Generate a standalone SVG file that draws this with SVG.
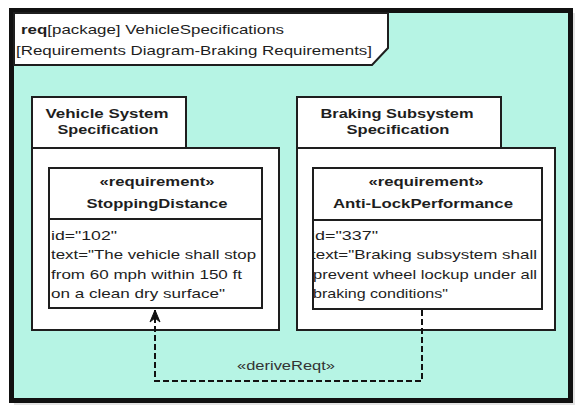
<svg xmlns="http://www.w3.org/2000/svg" width="578" height="405" viewBox="0 0 578 405">
  <style>
    text { font-family: "Liberation Sans", Arial, sans-serif; fill: #1e1e1e; }
    .hdr { font-size: 13px; }
    .title { font-size: 13px; font-weight: bold; text-anchor: middle; }
    .body { font-size: 13px; }
    .stereo { font-size: 12px; text-anchor: middle; fill: #333; }
    .box { fill: #ffffff; stroke: #1e1e1e; stroke-width: 2; }
    .edge { fill: none; stroke: #111; stroke-width: 2; }
  </style>
  <defs>
    <marker id="open-arrow" viewBox="0 0 14 12" refX="13" refY="6" markerWidth="14" markerHeight="12" markerUnits="userSpaceOnUse" orient="auto">
      <path d="M1,1 L13,6 L1,11 L5,6 Z" fill="#111" stroke="#111" stroke-width="1" stroke-linejoin="round"/>
    </marker>
    <clipPath id="clip-antilock-body">
      <rect x="314" y="220" width="228" height="89"/>
    </clipPath>
  </defs>

  <!-- diagram frame -->
  <g id="frame">
    <rect x="14" y="13" width="561" height="392" fill="#c8c8c8" opacity="0.5"/>
    <rect x="11.5" y="10.5" width="559" height="390" fill="#b6f4e4" stroke="#111" stroke-width="5"/>
    <path d="M14,13 H388 V48 L372,65 H14 Z" fill="#ffffff" stroke="#1e1e1e" stroke-width="2"/>
    <text class="hdr" x="21" y="34" textLength="263" lengthAdjust="spacingAndGlyphs"><tspan font-weight="bold">req</tspan>[package] VehicleSpecifications</text>
    <text class="hdr" x="16" y="55" textLength="356" lengthAdjust="spacingAndGlyphs">[Requirements Diagram-Braking Requirements]</text>
  </g>

  <!-- package: Vehicle System Specification -->
  <g id="vehicle-system-specification">
    <rect class="box" x="32" y="97" width="154" height="51"/>
    <rect class="box" x="32" y="148" width="247" height="182"/>
    <text class="title" x="107" y="118" textLength="123" lengthAdjust="spacingAndGlyphs">Vehicle System</text>
    <text class="title" x="108" y="134" textLength="101" lengthAdjust="spacingAndGlyphs">Specification</text>
  </g>

  <!-- requirement: StoppingDistance -->
  <g id="stopping-distance">
    <rect class="box" x="49" y="168" width="213" height="140"/>
    <line x1="49" y1="219" x2="262" y2="219" stroke="#1e1e1e" stroke-width="2"/>
    <text class="title" x="157" y="186" textLength="115" lengthAdjust="spacingAndGlyphs">«requirement»</text>
    <text class="title" x="157" y="208" textLength="141" lengthAdjust="spacingAndGlyphs">StoppingDistance</text>
    <text class="body" x="51" y="240" textLength="66" lengthAdjust="spacingAndGlyphs">id="102"</text>
    <text class="body" x="51" y="259" textLength="205" lengthAdjust="spacingAndGlyphs">text="The vehicle shall stop</text>
    <text class="body" x="51" y="279" textLength="191" lengthAdjust="spacingAndGlyphs">from 60 mph within 150 ft</text>
    <text class="body" x="51" y="298" textLength="174" lengthAdjust="spacingAndGlyphs">on a clean dry surface"</text>
  </g>

  <!-- package: Braking Subsystem Specification -->
  <g id="braking-subsystem-specification">
    <rect class="box" x="297" y="97" width="204" height="51"/>
    <rect class="box" x="297" y="148" width="258" height="182"/>
    <text class="title" x="397" y="118" textLength="153" lengthAdjust="spacingAndGlyphs">Braking Subsystem</text>
    <text class="title" x="398" y="134" textLength="103" lengthAdjust="spacingAndGlyphs">Specification</text>
  </g>

  <!-- requirement: Anti-LockPerformance -->
  <g id="anti-lock-performance">
    <rect class="box" x="313" y="168" width="229" height="141"/>
    <line x1="313" y1="220" x2="542" y2="220" stroke="#1e1e1e" stroke-width="2"/>
    <text class="title" x="426" y="186" textLength="115" lengthAdjust="spacingAndGlyphs">«requirement»</text>
    <text class="title" x="423" y="208" textLength="180" lengthAdjust="spacingAndGlyphs">Anti-LockPerformance</text>
    <g clip-path="url(#clip-antilock-body)">
      <text class="body" x="311" y="240" textLength="67" lengthAdjust="spacingAndGlyphs">id="337"</text>
      <text class="body" x="311" y="259" textLength="226" lengthAdjust="spacingAndGlyphs">text="Braking subsystem shall</text>
      <text class="body" x="313" y="279" textLength="224" lengthAdjust="spacingAndGlyphs">prevent wheel lockup under all</text>
      <text class="body" x="313" y="298" textLength="135" lengthAdjust="spacingAndGlyphs">braking conditions"</text>
    </g>
    <line x1="313" y1="220" x2="313" y2="309" stroke="#1e1e1e" stroke-width="2"/>
  </g>

  <!-- connectors -->
  <g id="connectors">
    <path class="edge" d="M422,310 V381 H155 V310" stroke-dasharray="6,3" marker-end="url(#open-arrow)"/>
    <text class="stereo" x="286" y="370" textLength="98" lengthAdjust="spacingAndGlyphs">«deriveReqt»</text>
  </g>
</svg>
